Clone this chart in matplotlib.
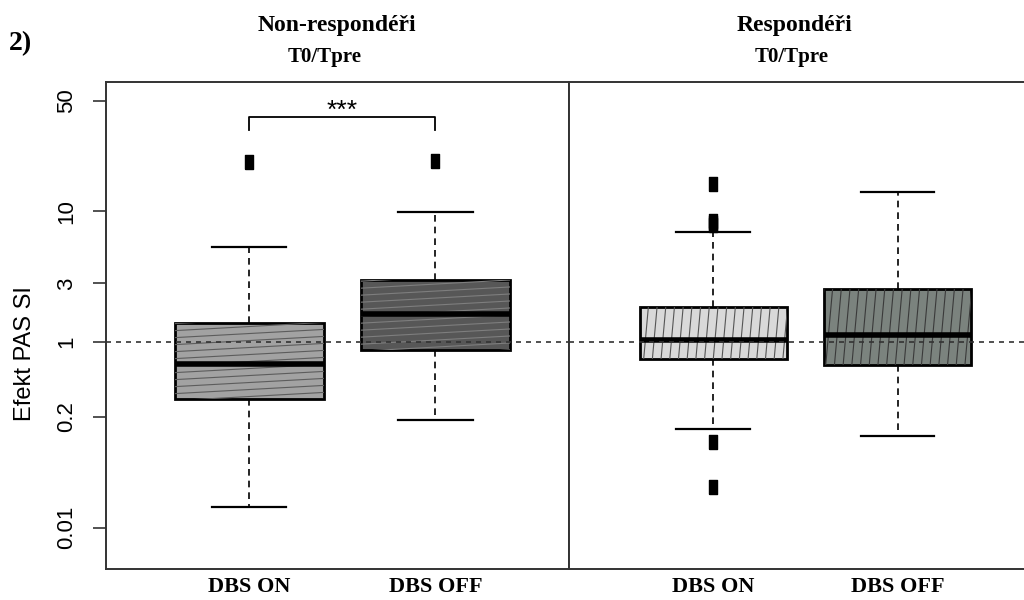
import numpy as np
import matplotlib.pyplot as plt

# ── Data: five-number summaries of PAS SI effect (T0/Tpre) ───────────────────

GROUPS = ['DBS ON', 'DBS OFF']

nonresp_whislo = [0.019, 0.185]
nonresp_q1     = [0.297, 0.85]
nonresp_med    = [0.635, 1.72]
nonresp_q3     = [1.44, 3.2]
nonresp_whishi = [5.6, 9.9]
nonresp_fliers = [[21.2], [21.6]]

resp_whislo = [0.15, 0.127]
resp_q1     = [0.714, 0.631]
resp_med    = [1.04, 1.14]
resp_q3     = [1.94, 2.72]
resp_whishi = [7.2, 13.6]
resp_fliers = [[0.033, 0.109, 8.0, 8.3, 8.6, 15.2], []]

Y_TICKS  = [0.01, 0.2, 1, 3, 10, 50]
Y_LABELS = ['0.01', '0.2', '1', '3', '10', '50']

SERIF = 'Liberation Serif'
SANS  = 'Liberation Sans'

# power scale (x ** 0.1) used for the y axis
def fwd(v):
    return np.power(np.clip(v, 1e-12, None), 0.1)

def inv(u):
    return np.power(np.clip(u, 0, None), 10.0)


def make_stats(whislo, q1, med, q3, whishi, fliers):
    return [dict(whislo=whislo[i], q1=q1[i], med=med[i], q3=q3[i],
                 whishi=whishi[i], fliers=fliers[i], label=GROUPS[i])
            for i in range(len(GROUPS))]


def hatch_box(ax, patch, style, color, spacing):
    '''Clip a set of thin lines to a box; "flat" = shallow, "steep" = near vertical.'''
    bb = patch.get_window_extent()
    x0, y0, x1, y1 = bb.x0, bb.y0, bb.x1, bb.y1
    w, h = x1 - x0, y1 - y0
    to_axes = ax.transAxes.inverted()
    segs = []
    if style == 'flat':
        slope = 0.055
        for c in np.arange(y0 - slope * w, y1 + spacing, spacing):
            segs.append([(x0, c), (x1, c + slope * w)])
    else:
        lean = 0.09
        for c in np.arange(x0 - lean * h, x1 + spacing, spacing):
            segs.append([(c, y0), (c + lean * h, y1)])
    for s in segs:
        pts = to_axes.transform(s)
        ln, = ax.plot(pts[:, 0], pts[:, 1], transform=ax.transAxes,
                      color=color, lw=0.8, zorder=2.5)
        ln.set_clip_path(patch)


def draw_panel(ax, stats, fills):
    flier_marker = [(-0.33, -0.5), (0.33, -0.5), (0.33, 0.5), (-0.33, 0.5), (-0.33, -0.5)]
    res = ax.bxp(stats, positions=[1, 2], widths=0.8, capwidths=0.4,
                 patch_artist=True, manage_ticks=False,
                 boxprops=dict(linewidth=2.0, edgecolor='black'),
                 medianprops=dict(linewidth=4.0, color='black'),
                 whiskerprops=dict(linewidth=1.2, linestyle=(0, (4, 3)), color='black'),
                 capprops=dict(linewidth=1.6, color='black'),
                 flierprops=dict(marker=flier_marker, markersize=9.5,
                                 markerfacecolor='black', markeredgecolor='black',
                                 linestyle='none'))
    for box, fc in zip(res['boxes'], fills):
        box.set_facecolor(fc)
        box.set_zorder(2)
    for m in res['medians']:
        m.set_zorder(4)
    return res


fig = plt.figure(figsize=(10.24, 6.0), dpi=100)
ax_l = fig.add_axes([106 / 1024, 31.5 / 600, 462.5 / 1024, 486.8 / 600])
ax_r = fig.add_axes([568.5 / 1024, 31.5 / 600, 455.5 / 1024, 486.8 / 600], sharey=ax_l)

for ax in (ax_l, ax_r):
    ax.set_yscale('function', functions=(fwd, inv))
ax_l.set_ylim(0.00253, 64.4)
ax_l.set_xlim(0.231, 2.715)
ax_r.set_xlim(0.214, 2.686)

res_l = draw_panel(ax_l, make_stats(nonresp_whislo, nonresp_q1, nonresp_med,
                                    nonresp_q3, nonresp_whishi, nonresp_fliers),
                   ['#a2a2a2', '#575757'])
res_r = draw_panel(ax_r, make_stats(resp_whislo, resp_q1, resp_med,
                                    resp_q3, resp_whishi, resp_fliers),
                   ['#d9d9d9', '#7b837e'])

# hatching needs final box positions in pixels
for box, col in zip(res_l['boxes'], ['#5c5c5c', '#7e7e7e']):
    hatch_box(ax_l, box, 'flat', col, 7.0)
for box, col in zip(res_r['boxes'], ['#555555', '#3a3a3a']):
    hatch_box(ax_r, box, 'steep', col, 8.7)

# reference line at effect = 1
for ax in (ax_l, ax_r):
    ax.axhline(1, color='#333333', lw=1.2, linestyle=(0, (3, 3)), zorder=5)

# axes cosmetics
for ax in (ax_l, ax_r):
    for sp in ax.spines.values():
        sp.set_color('#333333')
        sp.set_linewidth(1.4)
    ax.set_xticks([1, 2])
    ax.set_xticklabels(GROUPS, fontfamily=SERIF, fontweight='bold', fontsize=16)
    ax.tick_params(axis='x', length=0, pad=6)
ax_r.spines['right'].set_visible(False)
ax_r.tick_params(axis='y', left=False, labelleft=False)

ax_l.set_yticks(Y_TICKS)
ax_l.set_yticklabels(Y_LABELS, fontfamily=SANS, fontsize=16, rotation=90, va='center')
ax_l.yaxis.set_minor_locator(plt.NullLocator())
ax_r.yaxis.set_minor_locator(plt.NullLocator())
ax_l.tick_params(axis='y', length=9.5, width=1.2, color='#333333', pad=11)

fig.text(25 / 1024, 1 - 354 / 600, 'Efekt PAS SI', rotation=90, ha='center', va='center',
         fontfamily=SANS, fontsize=17)

# significance bracket between DBS ON and DBS OFF (non-responders)
ax_l.plot([1, 1, 2, 2], [33.5, 40, 40, 33.5], color='black', lw=1.3, clip_on=False)
ax_l.text(1.5, 39.5, '***', ha='center', va='baseline', fontfamily=SANS, fontsize=19)

# panel headings
fig.text(21 / 1024, 1 - 44 / 600, '2)', ha='center', va='center',
         fontfamily=SERIF, fontweight='bold', fontsize=20)
fig.text(337 / 1024, 1 - 25 / 600, 'Non-respondéři', ha='center', va='center',
         fontfamily=SERIF, fontweight='bold', fontsize=17)
fig.text(325 / 1024, 1 - 57 / 600, 'T0/Tpre', ha='center', va='center',
         fontfamily=SERIF, fontweight='bold', fontsize=15)
fig.text(794 / 1024, 1 - 25 / 600, 'Respondéři', ha='center', va='center',
         fontfamily=SERIF, fontweight='bold', fontsize=17)
fig.text(792 / 1024, 1 - 57 / 600, 'T0/Tpre', ha='center', va='center',
         fontfamily=SERIF, fontweight='bold', fontsize=15)

fig.savefig('out.png', dpi=100)
